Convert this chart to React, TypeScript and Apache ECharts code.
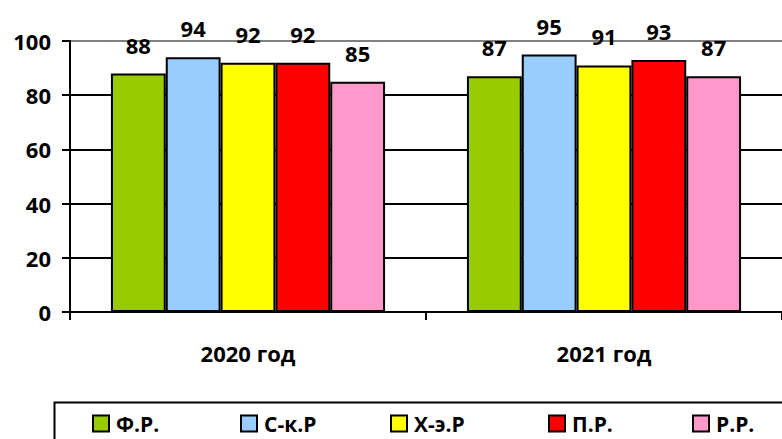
import React, { useEffect, useRef } from "react";
import * as echarts from "echarts";

const categories = ["2020 год", "2021 год"];
const seriesNames = ["Ф.Р.", "С-к.Р", "Х-э.Р", "П.Р.", "Р.Р."];
const seriesColors = ["#99cc00", "#99ccff", "#ffff00", "#ff0000", "#ff99cc"];
const valuesFR = [88, 87];
const valuesSKR = [94, 95];
const valuesHER = [92, 91];
const valuesPR = [92, 93];
const valuesRR = [85, 87];
const yTicks = [0, 20, 40, 60, 80, 100];

const allValues = [valuesFR, valuesSKR, valuesHER, valuesPR, valuesRR];
const legendLefts = [92, 240, 390, 548, 692];
const FONT = "'Open Sans', Lato, sans-serif";

export default function App() {
  const ref = useRef<HTMLDivElement>(null);
  useEffect(() => {
    document.body.style.margin = "0";
    const chart = echarts.init(ref.current!, null, { renderer: "svg" });
    chart.setOption({
      animation: false,
      textStyle: { fontFamily: FONT },
      grid: { left: 70, top: 41, height: 271, width: 718, containLabel: false },
      xAxis: {
        type: "category",
        data: categories,
        axisLine: { lineStyle: { color: "#000", width: 2 } },
        axisTick: { show: true, length: 8, lineStyle: { color: "#000", width: 2 } },
        axisLabel: { color: "#000", fontWeight: "bold", fontSize: 22, margin: 30, fontFamily: FONT },
      },
      yAxis: {
        type: "value",
        min: yTicks[0],
        max: yTicks[yTicks.length - 1],
        interval: 20,
        axisLine: { show: true, lineStyle: { color: "#000", width: 2 } },
        axisTick: { show: true, length: 8, lineStyle: { color: "#000", width: 2 } },
        axisLabel: { color: "#000", fontWeight: "bold", fontSize: 22, margin: 19, fontFamily: FONT },
        splitLine: {
          show: true,
          lineStyle: { color: ["#000", "#000", "#000", "#000", "#000", "#808080"], width: 2 },
        },
      },
      legend: seriesNames.map((n, i) => ({
        data: [{ name: n, icon: "rect" }],
        left: legendLefts[i],
        top: 413,
        itemWidth: 16,
        itemHeight: 16,
        itemGap: 0,
        textStyle: { color: "#000", fontWeight: "bold", fontSize: 21, fontFamily: FONT, padding: [0, 0, 0, 2] },
        padding: 0,
      })),
      graphic: [
        {
          type: "rect",
          left: 52,
          top: 400,
          shape: { width: 800, height: 80 },
          style: { fill: "none", stroke: "#000", lineWidth: 2 },
          silent: true,
        },
      ],
      series: seriesNames.map((n, i) => ({
        name: n,
        type: "bar",
        data: allValues[i],
        barGap: "0%",
        barCategoryGap: "23%",
        itemStyle: { color: seriesColors[i], borderColor: "#000", borderWidth: 2 },
        label: {
          show: true,
          position: "top",
          distance: 18,
          color: "#000",
          fontWeight: "bold",
          fontSize: 22,
          fontFamily: FONT,
        },
      })),
    });
    return () => chart.dispose();
  }, []);
  return <div ref={ref} style={{ width: 782, height: 439 }} />;
}
